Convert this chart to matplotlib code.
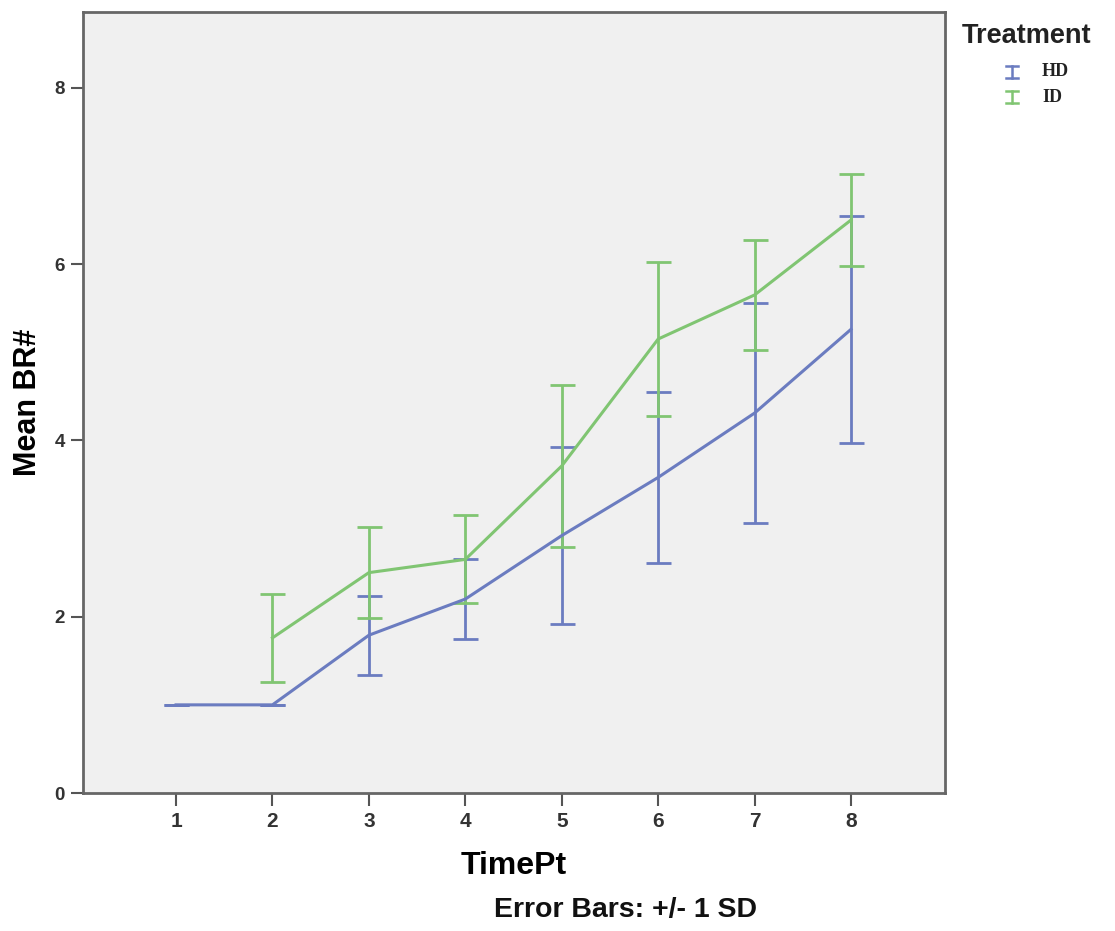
import matplotlib
matplotlib.use("Agg")
import matplotlib.pyplot as plt
from matplotlib.lines import Line2D

# Data
timepts = [1, 2, 3, 4, 5, 6, 7, 8]
hd_mean = [1.0, 1.0, 1.79, 2.20, 2.92, 3.58, 4.31, 5.26]
hd_sd   = [0.0, 0.0, 0.45, 0.45, 1.00, 0.97, 1.25, 1.29]
id_time = [2, 3, 4, 5, 6, 7, 8]
id_mean = [1.76, 2.50, 2.65, 3.71, 5.15, 5.65, 6.50]
id_sd   = [0.50, 0.52, 0.50, 0.92, 0.87, 0.62, 0.52]
groups = ["HD", "ID"]
ytick_vals = [0, 2, 4, 6, 8]

blue = "#6b7cc0"
green = "#80c572"
sans = ["Liberation Sans", "DejaVu Sans"]
serif = ["Liberation Serif", "DejaVu Serif"]

W, H = 1115, 931
fig = plt.figure(figsize=(W / 100, H / 100), dpi=100)
ax = fig.add_axes([83 / W, 1 - 793 / H, 862 / W, 781 / H])
ax.set_facecolor("#f0f0f0")

ax.errorbar(timepts, hd_mean, yerr=hd_sd, color=blue, lw=2.2, elinewidth=2.0,
            capsize=9, capthick=2.0, zorder=3)
ax.errorbar(id_time, id_mean, yerr=id_sd, color=green, lw=2.2, elinewidth=2.0,
            capsize=9, capthick=2.0, zorder=3)

ax.set_xlim(0.035, 8.975)
ax.set_ylim(0, 8.86)
ax.set_xticks(timepts)
ax.set_yticks(ytick_vals)
ax.set_xticklabels([str(t) for t in timepts], family=sans, fontweight="bold",
                   fontsize=15, color="#333333")
ax.set_yticklabels([str(v) for v in ytick_vals], family=sans, fontweight="bold",
                   fontsize=13.5, color="#333333")
ax.tick_params(axis="both", direction="out", length=9, width=1.5, color="#555555")
ax.tick_params(axis="y", pad=4)
ax.tick_params(axis="x", pad=5)
for s in ax.spines.values():
    s.set_color("#666666")
    s.set_linewidth(2)

ax.set_xlabel("TimePt", family=sans, fontweight="bold", fontsize=23, labelpad=14)
ax.set_ylabel("Mean BR#", family=sans, fontweight="bold", fontsize=22, labelpad=8)

fig.text(625 / W, 1 - 910 / H, "Error Bars: +/- 1 SD", family=sans, fontweight="bold",
         fontsize=20.5, ha="center", va="center", color="#111111")

# Legend
fig.text(962 / W, 1 - 36 / H, "Treatment", family=sans,
         fontweight="bold", fontsize=19.5, ha="left", va="center", color="#222222")
for i, (g, c) in enumerate(zip(groups, [blue, green])):
    yp = 72 + i * 25
    xc = 1012
    fig.add_artist(Line2D([xc / W, xc / W], [1 - (yp - 6) / H, 1 - (yp + 6) / H],
                          transform=fig.transFigure, color=c, lw=1.8))
    for yy in (yp - 6, yp + 6):
        fig.add_artist(Line2D([(xc - 6) / W, (xc + 6) / W], [1 - yy / H, 1 - yy / H],
                              transform=fig.transFigure, color=c, lw=1.8))
    fig.text(1042 / W, 1 - yp / H, g, family=serif,
             fontweight="bold", fontsize=13, ha="left", va="center", color="#222222")

fig.savefig("out.png", dpi=100)
